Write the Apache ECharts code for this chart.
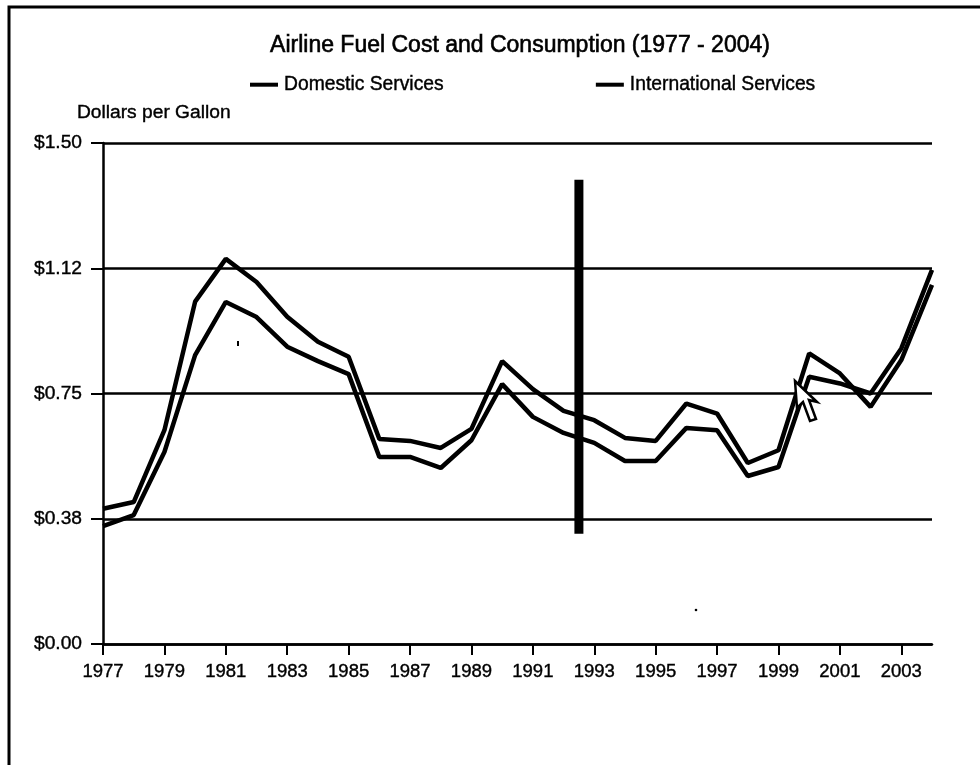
<!DOCTYPE html>
<html><head><meta charset="utf-8">
<style>html,body{margin:0;padding:0;background:#fff}#c{width:980px;height:765px}</style>
<script src="https://cdn.jsdelivr.net/npm/echarts@6/dist/echarts.min.js"></script>
</head><body><div id="c"></div>
<script>
const years = ['1977','1978','1979','1980','1981','1982','1983','1984','1985','1986','1987','1988','1989','1990','1991','1992','1993','1994','1995','1996','1997','1998','1999','2000','2001','2002','2003','2004'];
const domestic = [0.405,0.425,0.64,1.025,1.153,1.084,0.98,0.905,0.86,0.614,0.608,0.587,0.644,0.847,0.763,0.698,0.67,0.617,0.608,0.72,0.69,0.542,0.58,0.87,0.81,0.71,0.85,1.075];
const international = [0.353,0.386,0.575,0.865,1.024,0.979,0.89,0.847,0.808,0.56,0.56,0.527,0.61,0.778,0.68,0.632,0.602,0.548,0.548,0.647,0.64,0.503,0.53,0.80,0.78,0.75,0.885,1.12];
const yTickLabels = ['$0.00','$0.38','$0.75','$1.12','$1.50'];
const breakYear = [1992.5,1992.5];
const breakRange = [0.33,1.39];
const font = '"Liberation Sans", Arial, sans-serif';
const ink = '#000';
const heavy = {textBorderColor:ink,textBorderWidth:0.4};
const chart = echarts.init(document.getElementById('c'));
chart.setOption({
  animation:false,
  backgroundColor:'#fff',
  title:{text:'Airline Fuel Cost and Consumption (1977 - 2004)',left:515,top:29,textAlign:'center',
    textStyle:{fontFamily:font,fontSize:23,fontWeight:'normal',color:ink,textBorderColor:ink,textBorderWidth:0.6}},
  legend:{data:['Domestic Services','International Services'],left:245,top:70,itemWidth:28,itemHeight:4,itemGap:152,
    icon:'rect',textStyle:Object.assign({fontFamily:font,fontSize:19.3,color:ink,padding:[0,0,0,1]},heavy)},
  grid:{left:103,right:48,top:143,bottom:121},
  xAxis:[
    {type:'category',data:years,boundaryGap:false,
     axisLine:{lineStyle:{color:ink,width:2.5}},
     axisTick:{show:true,interval:1,length:11,lineStyle:{color:ink,width:2}},
     axisLabel:Object.assign({interval:1,margin:18,color:ink,fontFamily:font,fontSize:18.5},heavy),
     splitLine:{show:false}},
    {type:'value',min:1977,max:2004,show:false,splitLine:{show:false}}
  ],
  yAxis:{type:'value',min:0,max:1.5,interval:0.375,
     name:'Dollars per Gallon',nameLocation:'end',nameGap:21,
     nameTextStyle:Object.assign({fontFamily:font,fontSize:19.2,color:ink,align:'left',padding:[0,0,0,-26]},heavy),
     axisLine:{show:true,lineStyle:{color:ink,width:2.5}},
     axisTick:{show:true,length:12,lineStyle:{color:ink,width:2}},
     axisLabel:Object.assign({margin:21,color:ink,fontFamily:font,fontSize:19.2,
       formatter:(v)=>yTickLabels[Math.round(v/0.375)]},heavy),
     splitLine:{show:true,lineStyle:{color:ink,width:2.5,type:'solid'}}},
  series:[
    {name:'Domestic Services',type:'line',data:domestic,symbol:'none',lineStyle:{color:ink,width:4.5},itemStyle:{color:ink},z:3},
    {name:'International Services',type:'line',data:international,symbol:'none',lineStyle:{color:ink,width:4.5},itemStyle:{color:ink},z:3},
    {name:'Break',type:'line',xAxisIndex:1,data:breakYear.map((y,i)=>[y,breakRange[i]]),symbol:'none',
     lineStyle:{color:ink,width:9,cap:'butt'},z:4}
  ],
  graphic:[
    {type:'polyline',z:10,shape:{points:[[9,765],[9,7],[980,7]]},style:{stroke:ink,lineWidth:3,fill:null}},
    {type:'polygon',z:10,shape:{points:[[795,381],[797,408],[803,402],[810,421],[816,419],[809,400],[817,402]]},
      style:{fill:'#fff',stroke:ink,lineWidth:2.5}},
    {type:'rect',z:10,shape:{x:237,y:341,width:2,height:5},style:{fill:ink}},
    {type:'circle',z:10,shape:{cx:696,cy:610,r:1.3},style:{fill:ink}}
  ]
});
</script></body></html>
